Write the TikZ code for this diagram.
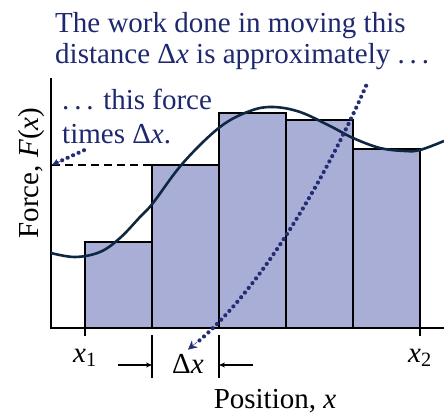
\documentclass[tikz,border=0pt]{standalone}
\usepackage{fontspec}
\setmainfont{Liberation Serif}
\usepackage{tikz}
\usetikzlibrary{calc,arrows.meta,decorations.markings}
\definecolor{barfill}{RGB}{168,174,214}
\definecolor{textblue}{RGB}{30,40,110}
\definecolor{curvecol}{RGB}{15,40,65}
\definecolor{dotblue}{RGB}{35,45,115}
\tikzset{
  lbl/.style={inner sep=0pt,font=\fontsize{29}{31}\selectfont},
  bar/.style={draw=black,line width=1.3pt,fill=barfill},
  dotline/.style={decoration={markings,
      mark=between positions 0 and 0.96 step 6pt with {\fill[dotblue] (0,0) circle (2.1pt);}},
    postaction={decorate}},
  dottip/.style={dotblue,line width=0.5pt,-{Stealth[length=#1,width=#1]}},
  dimarrow/.style={line width=1.1pt,-{Stealth[length=6pt,width=5pt]}}
}

\begin{document}
\begin{tikzpicture}[x=1pt,y=-1pt,>=stealth]
			\useasboundingbox (0,0) rectangle (444,414);
			\coordinate (O) at (51,328);
			\coordinate (ytop) at (51,78);
			\coordinate (xend) at (444,328);
			\coordinate (fv) at (52,165);
			
			\foreach \xl/\h in {85/242,152/165,219/113,286/120,353/149}
			\draw[bar] (\xl,328) rectangle (\xl+67,\h);
			
			\draw[line width=1.4pt] (ytop)--(O)--(xend);
			\draw[line width=1.3pt] (85,328)--(85,336);
			\draw[line width=1.3pt] (420,328)--(420,336);
			\draw[line width=1.3pt,dash pattern=on 8pt off 5pt] (fv)--(152,165);
			
			\draw[curvecol,line width=2.6pt,smooth,tension=0.6] plot coordinates {
				(51,253) (75,257) (100,252) (120,238) (140,217) (153,203) (183,163)
				(220,127) (250,111) (273,107) (300,112) (330,126) (353,138)
				(380,148) (405,151) (420,150) (444,141)};
			
			\node[lbl,textblue,align=left,anchor=north west] (title) at (55,12)
			{The work done in moving this\\distance Δ\textit{x} is approximately .\,.\,.};
			\node[lbl,textblue,align=left,anchor=north west,font=\fontsize{29}{34}\selectfont]
			(note) at (62,89) {.\,.\,. this force\\times Δ\textit{x}.};
			\node[lbl,rotate=90] (ylabel) at (32,173) {Force, \textit{F}(\textit{x})};
			\node[lbl,anchor=base] (xlabel) at (275,408) {Position, \textit{x}};
			\node[lbl,anchor=base] (xa) at (85,362) {\textit{x}\textsubscript{1}};
			\node[lbl,anchor=base] (xb) at (420,362) {\textit{x}\textsubscript{2}};
			\node[lbl,anchor=base] (dx) at (188,373) {Δ\textit{x}};
			
			\draw[line width=1.3pt] (152,335)--(152,378);
			\draw[line width=1.3pt] (219,335)--(219,378);
			\draw[dimarrow] (118,365)--(152,365);
			\draw[dimarrow] (253,365)--(219,365);
			
			\path[dotline] ($(title.south)+(124,16)$) .. controls (327,175) and (258,297) .. ($(dx.north)+(0,-4)$);
			\draw[dottip=9pt] (197,342) -- ($(dx.north)+(0,-4)$);
			\path[dotline] ($(note.south west)+(22,6)$) -- (fv);
			\draw[dottip=7pt] (61,161) -- (fv);
		\end{tikzpicture}
\end{document}
